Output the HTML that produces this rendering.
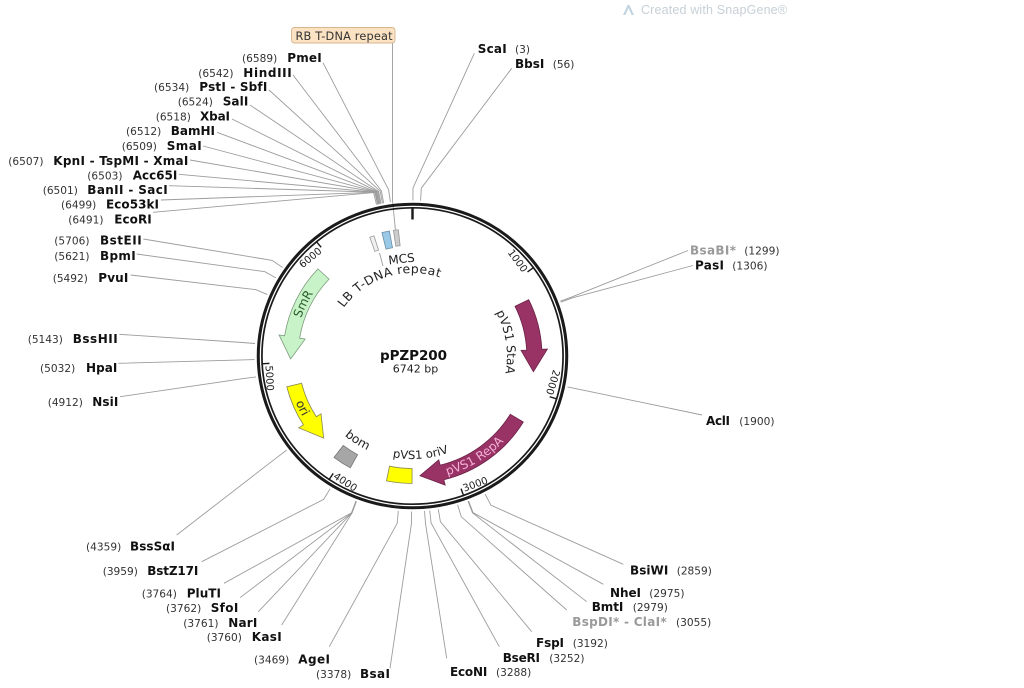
<!DOCTYPE html>
<html><head><meta charset="utf-8"><title>pPZP200</title>
<style>html,body{margin:0;padding:0;background:#fff;}svg{display:block;}</style></head>
<body>
<svg xmlns="http://www.w3.org/2000/svg" width="1024" height="688" viewBox="0 0 1024 688">
<rect width="1024" height="688" fill="#fff"/>

<!-- watermark -->
<path d="M623 15 L627.5 5 L629.5 5 L634 15 L631.5 15 L628.5 8 L625.5 15 Z" fill="#c3d6e0"/>
<text x="641" y="14" font-family="'Liberation Sans',sans-serif" font-size="12.5" fill="#c6d0d6" textLength="146">Created with SnapGene®</text>

<!-- connector lines -->
<g fill="none" stroke="#9c9c9c" stroke-width="0.9">
<polyline points="323,62.7 388.6,189.7 390.4,202.1"/>
<polyline points="293,75 381.4,190.9 383.7,203.2"/>
<polyline points="269,90 380.1,191.1 382.5,203.4"/>
<polyline points="250,105 378.6,191.5 381.1,203.7"/>
<polyline points="232,119 377.7,191.7 380.3,203.9"/>
<polyline points="217,132.3 376.8,191.9 379.4,204.1"/>
<polyline points="203,146 376.3,192 379,204.2"/>
<polyline points="190,160 376,192 378.7,204.2"/>
<polyline points="179,174.3 375.4,192.2 378.2,204.3"/>
<polyline points="169,185.7 375.1,192.2 377.9,204.4"/>
<polyline points="161,200 374.8,192.3 377.6,204.5"/>
<polyline points="153,212.3 373.6,192.6 376.5,204.7"/>
<polyline points="474.3,53.3 413,188 412.9,200.5"/>
<polyline points="511.7,68.3 421.3,188.2 420.6,200.7"/>
<polyline points="688,250.5 572.2,296.8 560.4,301.2"/>
<polyline points="693,265.5 572.6,297.8 560.7,302.2"/>
<polyline points="702,415 579.8,389.4 567.4,386.9"/>
<polyline points="623.3,564.3 490.9,505.2 485.1,494.1"/>
<polyline points="603.3,584.3 473.1,512.7 468.6,501"/>
<polyline points="586.7,601.7 472.5,512.9 468,501.2"/>
<polyline points="566.7,610 461.3,516.8 457.6,504.8"/>
<polyline points="531.7,631.7 440.4,521.7 438.3,509.3"/>
<polyline points="499.3,646.7 431.1,523 429.7,510.5"/>
<polyline points="446.7,658.3 425.5,523.5 424.5,511"/>
<polyline points="390,668.3 411.4,524 411.5,511.5"/>
<polyline points="329.3,646.7 397.2,523.3 398.3,510.9"/>
<polyline points="281.7,625 352,513.1 356.4,501.4"/>
<polyline points="258.3,611.7 351.8,513 356.3,501.3"/>
<polyline points="240,597.7 351.7,513 356.2,501.3"/>
<polyline points="224,583.3 351.4,512.9 355.9,501.2"/>
<polyline points="201.7,561.7 323.6,499.4 330.2,488.7"/>
<polyline points="176.7,535 276.6,457.7 286.7,450.1"/>
<polyline points="143.3,239 272.2,260.4 282.6,267.5"/>
<polyline points="136.7,254 264.9,271.7 275.9,277.9"/>
<polyline points="130.7,275 255.7,289.6 267.4,294.6"/>
<polyline points="119.3,334.3 242.4,342.5 255,343.5"/>
<polyline points="118.3,363.3 241.9,359.9 254.6,359.6"/>
<polyline points="120,396.7 243.4,378.6 256,376.9"/>
<polyline points="392.5,43 392.5,200 395.5,231"/>
<polyline points="379.5,253 383,266"/>
</g>

<!-- RB T-DNA repeat label box -->
<rect x="291.5" y="27.5" width="103.5" height="15.5" rx="3" ry="3" fill="#fbe2c2" stroke="#d7b68e" stroke-width="0.9"/>
<text x="295.5" y="40" font-family="'DejaVu Sans',sans-serif" font-size="11.3" fill="#333" textLength="97">RB T-DNA repeat</text>

<!-- plasmid ring and features -->
<g transform="translate(412.5,356) scale(1.016,1)" font-family="'DejaVu Sans',sans-serif">
<defs>
<path id="p_lb" d="M -67.65 -48.08 A 83 83 0 0 1 42.5 -71.3"/>
<path id="p_sta" d="M 82.11 -43.66 A 93 93 0 0 1 89.83 24.07"/>
<path id="p_repa" d="M 34.18 119.2 A 124 124 0 0 0 105.16 65.71"/>
<path id="p_smr" d="M -109.68 -37.77 A 116 116 0 0 1 -88.86 -74.56"/>
<path id="p_ori" d="M -114.97 46.45 A 124 124 0 0 0 -87.68 87.68"/>
<path id="p_bom" d="M -66.85 79.66 A 104 104 0 0 0 -26.92 100.45"/>
<path id="p_oriv" d="M -19.65 101.11 A 103 103 0 0 0 51.5 89.2"/>
</defs>
<circle cx="0" cy="0" r="151.8" fill="none" stroke="#1a1a1a" stroke-width="3"/>
<circle cx="0" cy="0" r="148.2" fill="none" stroke="#1a1a1a" stroke-width="1.7"/>

<!-- ticks -->
<g stroke="#1a1a1a">
<line x1="0" y1="-149" x2="0" y2="-136.5" stroke-width="2.4"/>
<line x1="0" y1="-149" x2="0" y2="-141" stroke-width="1.4" transform="rotate(53.4)"/>
<line x1="0" y1="-149" x2="0" y2="-141" stroke-width="1.4" transform="rotate(106.8)"/>
<line x1="0" y1="-149" x2="0" y2="-141" stroke-width="1.4" transform="rotate(160.2)"/>
<line x1="0" y1="-149" x2="0" y2="-141" stroke-width="1.4" transform="rotate(213.6)"/>
<line x1="0" y1="-149" x2="0" y2="-141" stroke-width="1.4" transform="rotate(267)"/>
<line x1="0" y1="-149" x2="0" y2="-141" stroke-width="1.4" transform="rotate(320.4)"/>
</g>
<g font-size="10" fill="#222">
<text transform="rotate(53.4)" x="-2" y="-136.5" text-anchor="end">1000</text>
<text transform="rotate(106.8)" x="-2" y="-136.5" text-anchor="end">2000</text>
<text transform="rotate(320.4)" x="-2" y="-136.5" text-anchor="end">6000</text>
<text transform="rotate(-19.8)" x="2" y="145" text-anchor="start">3000</text>
<text transform="rotate(33.6)" x="2" y="145" text-anchor="start">4000</text>
<text transform="rotate(87)" x="2" y="145" text-anchor="start">5000</text>
</g>

<!-- features -->
<path d="M 114.4 -56.3 A 127.5 127.5 0 0 1 127.3 -6.67 L 132.8 -6.96 L 119.0 15.66 L 106.85 -5.60 L 112.34 -5.88 A 112.5 112.5 0 0 0 100.9 -49.67 Z" fill="#993366" stroke="#6b2247" stroke-width="0.8"/>
<path d="M 109.06 66.05 A 127.5 127.5 0 0 1 30.85 123.71 L 32.17 129.05 L 7.33 119.77 L 25.88 103.82 L 27.21 109.16 A 112.5 112.5 0 0 0 96.23 58.28 Z" fill="#993366" stroke="#6b2247" stroke-width="0.8"/>
<path d="M -93.1 -87.12 A 127.5 127.5 0 0 0 -125.89 -20.17 L -131.32 -21.04 L -119.96 2.93 L -105.65 -16.93 L -111.08 -17.80 A 112.5 112.5 0 0 1 -82.15 -76.87 Z" fill="#c8f3c8" stroke="#7d9c7d" stroke-width="0.8"/>
<path d="M -123.71 30.85 A 127.5 127.5 0 0 0 -107.29 68.88 L -111.92 71.85 L -87.48 82.14 L -90.04 57.80 L -94.67 60.77 A 112.5 112.5 0 0 1 -109.16 27.22 Z" fill="#ffff00" stroke="#8a8a50" stroke-width="0.8"/>
<path d="M -0.45 127.5 A 127.5 127.5 0 0 1 -25.64 124.9 L -22.62 110.2 A 112.5 112.5 0 0 0 -0.39 112.5 Z" fill="#ffff00" stroke="#8a8a50" stroke-width="0.8"/>
<path d="M -61.23 111.83 A 127.5 127.5 0 0 1 -77.26 101.42 L -68.17 89.49 A 112.5 112.5 0 0 0 -54.02 98.67 Z" fill="#a6a6a6" stroke="#777" stroke-width="0.8"/>
<path d="M -30.08 -123.38 A 127 127 0 0 1 -22.71 -124.96 L -19.67 -108.23 A 110 110 0 0 0 -26.05 -106.87 Z" fill="#99c9e6" stroke="#6d8ea3" stroke-width="0.8"/>
<path d="M -42.06 -118.77 A 126 126 0 0 1 -37.89 -120.17 L -33.38 -105.86 A 111 111 0 0 0 -37.05 -104.63 Z" fill="#f0f0f0" stroke="#999" stroke-width="0.8"/>
<path d="M -18.77 -125.60 A 127 127 0 0 1 -13.93 -126.24 L -12.18 -110.33 A 111 111 0 0 0 -16.41 -109.78 Z" fill="#cccccc" stroke="#999" stroke-width="0.8"/>

<!-- feature labels -->
<text font-size="12.2" fill="#222"><textPath href="#p_lb" textLength="106">LB T-DNA repeat</textPath></text>
<text font-size="12" fill="#222"><textPath href="#p_sta">pVS1 StaA</textPath></text>
<text font-size="12" fill="#f5b0da"><textPath href="#p_repa">pVS1 RepA</textPath></text>
<text font-size="12" fill="#2c5e2c"><textPath href="#p_smr">SmR</textPath></text>
<text font-size="12" fill="#333"><textPath href="#p_ori" startOffset="0">ori</textPath></text>
<text font-size="12" fill="#222"><textPath href="#p_bom" startOffset="0">bom</textPath></text>
<text font-size="11.5" fill="#222"><textPath href="#p_oriv">pVS1 oriV</textPath></text>
</g>

<text x="401.5" y="263" text-anchor="middle" font-family="'DejaVu Sans',sans-serif" font-size="12" fill="#222" transform="rotate(-6.4 401.5 259)">MCS</text>

<!-- center -->
<text x="413.5" y="360" text-anchor="middle" font-family="'DejaVu Sans',sans-serif" font-weight="bold" font-size="13.5" fill="#111" textLength="67">pPZP200</text>
<text x="415.5" y="372.5" text-anchor="middle" font-family="'DejaVu Sans',sans-serif" font-size="11" fill="#222">6742 bp</text>

<!-- site labels: numbers -->
<g font-family="'DejaVu Sans',sans-serif" font-size="10.6" fill="#333">
<text x="242" y="62.2">(6589)</text>
<text x="198.3" y="76.8">(6542)</text>
<text x="154" y="91.2">(6534)</text>
<text x="177.7" y="105.5">(6524)</text>
<text x="155.7" y="120.5">(6518)</text>
<text x="126" y="135.2">(6512)</text>
<text x="121.7" y="150.2">(6509)</text>
<text x="8.3" y="164.8">(6507)</text>
<text x="87.3" y="179.5">(6503)</text>
<text x="42.7" y="194.2">(6501)</text>
<text x="61" y="208.5">(6499)</text>
<text x="68.3" y="223.5">(6491)</text>
<text x="54.3" y="244.5">(5706)</text>
<text x="54.3" y="260.2">(5621)</text>
<text x="52.7" y="281.8">(5492)</text>
<text x="27.7" y="342.8">(5143)</text>
<text x="40" y="372.2">(5032)</text>
<text x="47.7" y="406.2">(4912)</text>
<text x="86" y="550.5">(4359)</text>
<text x="102.7" y="575.2">(3959)</text>
<text x="141.7" y="597.5">(3764)</text>
<text x="166" y="611.8">(3762)</text>
<text x="183.3" y="626.8">(3761)</text>
<text x="206.7" y="641.2">(3760)</text>
<text x="254" y="663.5">(3469)</text>
<text x="316" y="677.8">(3378)</text>
<text x="515" y="52.8">(3)</text>
<text x="552.7" y="67.8">(56)</text>
<text x="744.3" y="254.5">(1299)</text>
<text x="732.3" y="269.5">(1306)</text>
<text x="739.3" y="425.2">(1900)</text>
<text x="676.7" y="574.5">(2859)</text>
<text x="649.3" y="596.8">(2975)</text>
<text x="632.7" y="611.2">(2979)</text>
<text x="676" y="626.2">(3055)</text>
<text x="572.7" y="647.2">(3192)</text>
<text x="549.3" y="662.2">(3252)</text>
<text x="496" y="676.2">(3288)</text>
</g>

<!-- site labels: names -->
<g font-family="'DejaVu Sans',sans-serif" font-size="12" font-weight="bold" fill="#111">
<text x="287.3" y="62.2" textLength="34.4">PmeI</text>
<text x="243.3" y="76.8" textLength="48.4">HindIII</text>
<text x="199.3" y="91.2" textLength="68">PstI - SbfI</text>
<text x="222.7" y="105.5" textLength="25.6">SalI</text>
<text x="200" y="120.5" textLength="30">XbaI</text>
<text x="170.7" y="135.2" textLength="44.3">BamHI</text>
<text x="166.7" y="150.2" textLength="35">SmaI</text>
<text x="53.3" y="164.8" textLength="135">KpnI - TspMI - XmaI</text>
<text x="132.7" y="179.5" textLength="44.6">Acc65I</text>
<text x="87.3" y="194.2" textLength="80.4">BanII - SacI</text>
<text x="106" y="208.5" textLength="53">Eco53kI</text>
<text x="114.3" y="223.5" textLength="37.4">EcoRI</text>
<text x="100" y="244.5" textLength="41.7">BstEII</text>
<text x="100" y="260.2" textLength="35.7">BpmI</text>
<text x="98.3" y="281.8" textLength="30">PvuI</text>
<text x="72.7" y="342.8" textLength="45">BssHII</text>
<text x="86" y="372.2" textLength="31.3">HpaI</text>
<text x="92.3" y="406.2" textLength="26">NsiI</text>
<text x="130" y="550.5" textLength="45">BssSαI</text>
<text x="147.3" y="575.2" textLength="51">BstZ17I</text>
<text x="186.7" y="597.5" textLength="34.3">PluTI</text>
<text x="210.7" y="611.8" textLength="27.6">SfoI</text>
<text x="228.3" y="626.8" textLength="29">NarI</text>
<text x="251.7" y="641.2" textLength="30">KasI</text>
<text x="298.3" y="663.5" textLength="31.7">AgeI</text>
<text x="360" y="677.8" textLength="30">BsaI</text>
<text x="477.7" y="52.8" textLength="29">ScaI</text>
<text x="515" y="67.8" textLength="29.3">BbsI</text>
<text x="690" y="254.5" textLength="46" fill="#9a9a9a">BsaBI*</text>
<text x="695" y="269.5" textLength="29">PasI</text>
<text x="706" y="425.2" textLength="24">AclI</text>
<text x="630" y="574.5" textLength="38.3">BsiWI</text>
<text x="610" y="596.8" textLength="31">NheI</text>
<text x="591.7" y="611.2" textLength="31.7">BmtI</text>
<text x="572.3" y="626.2" textLength="94.3" fill="#9a9a9a">BspDI* - ClaI*</text>
<text x="536" y="647.2" textLength="28">FspI</text>
<text x="502.7" y="662.2" textLength="37.3">BseRI</text>
<text x="450" y="676.2" textLength="37.3">EcoNI</text>
</g>
</svg>
</body></html>
